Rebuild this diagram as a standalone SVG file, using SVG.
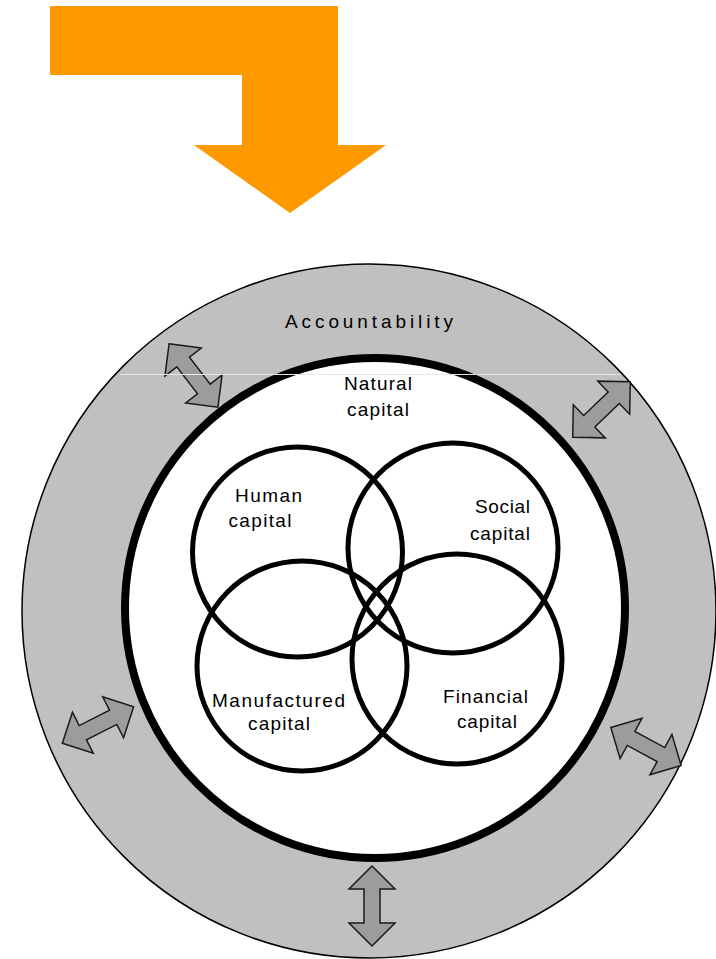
<svg xmlns="http://www.w3.org/2000/svg" width="716" height="959" viewBox="0 0 716 959">
<defs>
<style>
.lbl{font-family:"Liberation Sans",Arial,sans-serif;font-size:19px;fill:#000;text-anchor:middle}
.cap{fill:none;stroke:#000;stroke-width:5}
.dbl{fill:#9c9c9c;stroke:#1a1a1a;stroke-width:1.5;stroke-linejoin:miter}
</style>
<path id="darrow" d="M-40,0 L-17,-23 L-17,-8 L17,-8 L17,-23 L40,0 L17,23 L17,8 L-17,8 L-17,23 Z"/>
</defs>
<rect width="716" height="959" fill="#fff"/>
<g id="orange-arrow">
<polygon points="50,6 338,6 338,145 386,145 290,213 194,145 242,145 242,75 50,75" fill="#FF9900"/>
</g>
<g id="accountability">
<circle cx="369" cy="611" r="347" fill="#C0C0C0" stroke="#000" stroke-width="1.5"/>
<text class="lbl" x="369" y="328" font-size="23" textLength="168" lengthAdjust="spacing">Accountability</text>
</g>
<g id="natural-capital">
<circle cx="375" cy="608" r="250" fill="#fff" stroke="#000" stroke-width="8"/>
<text class="lbl" x="378" y="390" textLength="68" lengthAdjust="spacing">Natural</text>
<text class="lbl" x="378" y="416" textLength="62" lengthAdjust="spacing">capital</text>
</g>
<g id="human-capital">
<circle class="cap" cx="297.5" cy="552" r="105"/>
<text class="lbl" x="268.5" y="502" textLength="67" lengthAdjust="spacing">Human</text>
<text class="lbl" x="260" y="527" textLength="63" lengthAdjust="spacing">capital</text>
</g>
<g id="social-capital">
<circle class="cap" cx="453" cy="548" r="105"/>
<text class="lbl" x="502.5" y="513" textLength="55" lengthAdjust="spacing">Social</text>
<text class="lbl" x="500" y="540" textLength="60" lengthAdjust="spacing">capital</text>
</g>
<g id="manufactured-capital">
<circle class="cap" cx="302" cy="666" r="105"/>
<text class="lbl" x="278.5" y="707" textLength="133" lengthAdjust="spacing">Manufactured</text>
<text class="lbl" x="279" y="730" textLength="62" lengthAdjust="spacing">capital</text>
</g>
<g id="financial-capital">
<circle class="cap" cx="457" cy="659" r="105"/>
<text class="lbl" x="485.5" y="703" textLength="85" lengthAdjust="spacing">Financial</text>
<text class="lbl" x="487" y="728" textLength="60" lengthAdjust="spacing">capital</text>
</g>
<g id="connectors">
<use href="#darrow" class="dbl" transform="translate(193.5,375.5) rotate(52.4)"/>
<use href="#darrow" class="dbl" transform="translate(601.5,409.5) rotate(-44)"/>
<use href="#darrow" class="dbl" transform="translate(98,725) rotate(-27)"/>
<use href="#darrow" class="dbl" transform="translate(646,746.5) rotate(28.5)"/>
<use href="#darrow" class="dbl" transform="translate(372,906) rotate(90)"/>
</g>
<line x1="120" y1="374.5" x2="621" y2="374.5" stroke="#e6e6e6" stroke-width="1"/>
</svg>
